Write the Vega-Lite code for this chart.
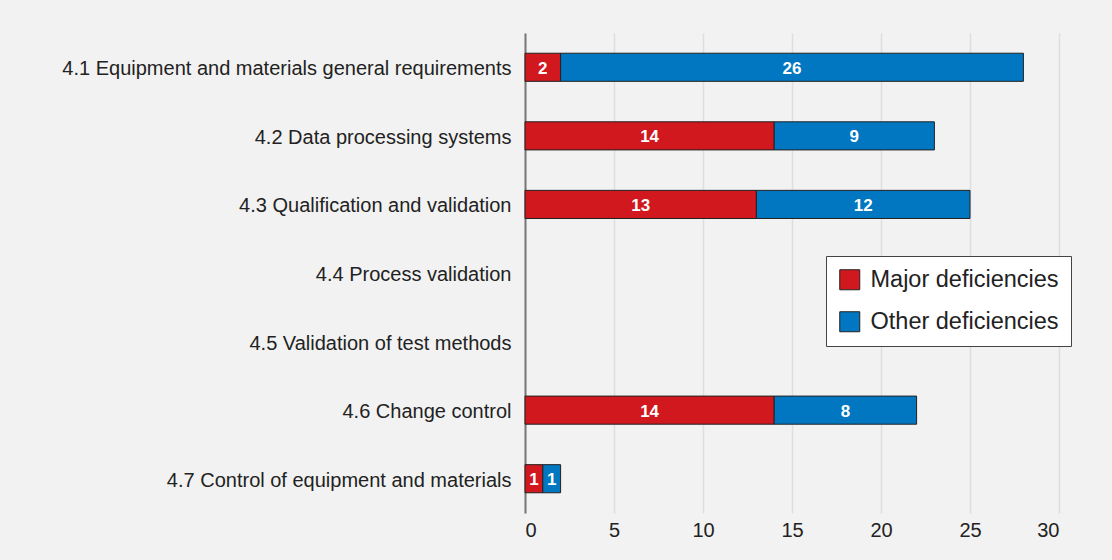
{
  "$schema": "https://vega.github.io/schema/vega-lite/v6.json",
  "autosize": {"type": "none"},
  "padding": {"left": 525, "top": 33, "right": 53, "bottom": 47},
  "width": 534,
  "height": 480,
  "background": "#f2f2f2",
  "config": {
    "view": {"stroke": null},
    "font": "Liberation Sans"
  },
  "data": {
    "values": [
      {"cat": "4.1 Equipment and materials general requirements", "type": "Major deficiencies", "value": 2},
      {"cat": "4.1 Equipment and materials general requirements", "type": "Other deficiencies", "value": 26},
      {"cat": "4.2 Data processing systems", "type": "Major deficiencies", "value": 14},
      {"cat": "4.2 Data processing systems", "type": "Other deficiencies", "value": 9},
      {"cat": "4.3 Qualification and validation", "type": "Major deficiencies", "value": 13},
      {"cat": "4.3 Qualification and validation", "type": "Other deficiencies", "value": 12},
      {"cat": "4.6 Change control", "type": "Major deficiencies", "value": 14},
      {"cat": "4.6 Change control", "type": "Other deficiencies", "value": 8},
      {"cat": "4.7 Control of equipment and materials", "type": "Major deficiencies", "value": 1},
      {"cat": "4.7 Control of equipment and materials", "type": "Other deficiencies", "value": 1}
    ]
  },
  "transform": [
    {"stack": "value", "groupby": ["cat"], "sort": [{"field": "type"}], "as": ["v0", "v1"]},
    {"calculate": "(datum.v0 + datum.v1) / 2", "as": "mid"}
  ],
  "encoding": {
    "y": {
      "field": "cat",
      "type": "nominal",
      "title": null,
      "scale": {
        "domain": [
          "4.1 Equipment and materials general requirements",
          "4.2 Data processing systems",
          "4.3 Qualification and validation",
          "4.4 Process validation",
          "4.5 Validation of test methods",
          "4.6 Change control",
          "4.7 Control of equipment and materials"
        ],
        "paddingInner": 0.59,
        "paddingOuter": 0.295
      },
      "axis": {
        "labelFontSize": 20,
        "labelColor": "#222",
        "labelPadding": 14,
        "labelOffset": 2,
        "labelLimit": 600,
        "ticks": false,
        "domainColor": "#777",
        "domainWidth": 2,
        "grid": false
      }
    }
  },
  "layer": [
    {
      "mark": {"type": "bar", "stroke": "#222", "strokeWidth": 1},
      "encoding": {
        "x": {
          "field": "v0",
          "type": "quantitative",
          "title": null,
          "scale": {"domain": [0, 30], "nice": false},
          "axis": {
            "values": [0, 5, 10, 15, 20, 25, 30],
            "labelFontSize": 20,
            "labelColor": "#222",
            "labelPadding": 7,
            "ticks": false,
            "domain": false,
            "grid": true,
            "gridColor": "#dedede",
            "gridWidth": 1.5
          }
        },
        "x2": {"field": "v1"},
        "color": {
          "field": "type",
          "type": "nominal",
          "title": null,
          "scale": {
            "domain": ["Major deficiencies", "Other deficiencies"],
            "range": ["#d0181e", "#0077c0"]
          },
          "legend": {
            "orient": "none",
            "legendX": 301,
            "legendY": 223,
            "direction": "vertical",
            "fillColor": "white",
            "strokeColor": "#444",
            "padding": 12,
            "symbolType": "square",
            "symbolSize": 400,
            "symbolStrokeColor": "#222",
            "symbolStrokeWidth": 1,
            "symbolOpacity": 1,
            "labelFontSize": 23.5,
            "labelColor": "#222",
            "labelOffset": 9,
            "rowPadding": 17,
            "labelLimit": 400
          }
        }
      }
    },
    {
      "mark": {"type": "text", "color": "white", "fontSize": 17, "fontWeight": "bold", "dy": 1.5},
      "encoding": {
        "x": {"field": "mid", "type": "quantitative"},
        "text": {"field": "value", "type": "quantitative"}
      }
    }
  ]
}
